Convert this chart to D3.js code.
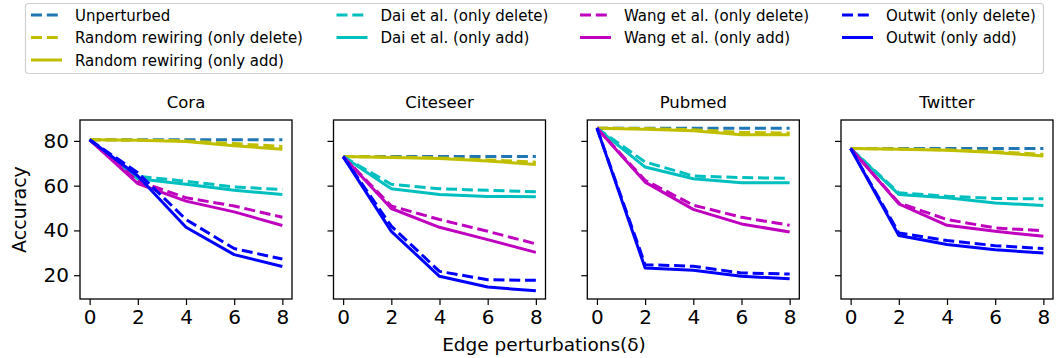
<!DOCTYPE html>
<html>
<head>
<meta charset="utf-8">
<script src="https://cdn.jsdelivr.net/npm/d3@7"></script>
<style>
  html, body { margin: 0; padding: 0; background: #fff; }
  svg text { font-family: "DejaVu Sans", sans-serif; fill: #000; }
</style>
</head>
<body>
<svg id="chart" width="1057" height="358"></svg>
<script>
// x values and panels
var deltas = [0, 2, 4, 6, 8];
var datasets = ["Cora", "Citeseer", "Pubmed", "Twitter"];
var yTicks = [20, 40, 60, 80];

// accuracy per dataset (Cora, Citeseer, Pubmed, Twitter)
var unperturbed = [
  [80.5, 80.5, 80.5, 80.5, 80.5],
  [73.0, 73.0, 73.0, 73.0, 73.0],
  [85.7, 85.7, 85.7, 85.7, 85.7],
  [76.6, 76.6, 76.6, 76.6, 76.6]
];
var randomDelete = [
  [80.5, 80.4, 80.0, 78.8, 77.5],
  [73.0, 72.8, 72.4, 71.5, 70.5],
  [85.7, 85.5, 85.0, 83.8, 83.5],
  [76.6, 76.4, 76.0, 75.2, 74.0]
];
var randomAdd = [
  [80.5, 80.3, 79.7, 77.8, 76.3],
  [73.0, 72.6, 72.1, 71.0, 69.5],
  [85.7, 85.2, 84.5, 82.7, 82.7],
  [76.6, 76.3, 75.8, 74.8, 73.3]
];
var daiDelete = [
  [80.5, 64.2, 62.0, 59.4, 58.3],
  [73.0, 60.6, 58.6, 57.9, 57.3],
  [85.7, 70.6, 64.3, 63.6, 63.3],
  [76.6, 56.8, 55.3, 54.3, 54.1]
];
var daiAdd = [
  [80.5, 63.1, 60.6, 57.9, 56.1],
  [73.0, 58.6, 56.1, 55.2, 55.0],
  [85.7, 68.3, 63.1, 61.3, 61.3],
  [76.6, 56.1, 54.6, 52.3, 51.1]
];
var wangDelete = [
  [80.5, 62.0, 54.6, 50.9, 45.9],
  [73.0, 50.9, 44.9, 39.6, 34.0],
  [85.7, 62.4, 51.3, 45.9, 42.3],
  [76.6, 52.3, 44.9, 41.1, 39.9]
];
var wangAdd = [
  [80.5, 60.9, 53.1, 48.3, 42.2],
  [73.0, 49.8, 41.4, 35.9, 30.2],
  [85.7, 61.6, 49.4, 42.9, 39.3],
  [76.6, 51.9, 42.3, 39.6, 37.4]
];
var outwitDelete = [
  [80.5, 65.8, 44.9, 31.9, 27.2],
  [73.0, 41.9, 21.7, 18.0, 17.7],
  [85.7, 24.7, 24.0, 21.0, 20.5],
  [76.6, 38.9, 35.5, 33.2, 31.9]
];
var outwitAdd = [
  [80.5, 64.3, 41.4, 29.2, 23.9],
  [73.0, 39.6, 19.5, 14.7, 13.0],
  [85.7, 23.2, 22.2, 19.5, 18.4],
  [76.6, 37.7, 33.7, 31.4, 29.9]
];

var series = [
  { name: "Unperturbed", values: unperturbed, color: "#1f77b4", dashed: true },
  { name: "Random rewiring (only delete)", values: randomDelete, color: "#bfbf00", dashed: true },
  { name: "Random rewiring (only add)", values: randomAdd, color: "#bfbf00", dashed: false },
  { name: "Dai et al. (only delete)", values: daiDelete, color: "#00bfbf", dashed: true },
  { name: "Dai et al. (only add)", values: daiAdd, color: "#00bfbf", dashed: false },
  { name: "Wang et al. (only delete)", values: wangDelete, color: "#bf00bf", dashed: true },
  { name: "Wang et al. (only add)", values: wangAdd, color: "#bf00bf", dashed: false },
  { name: "Outwit (only delete)", values: outwitDelete, color: "#0000ff", dashed: true },
  { name: "Outwit (only add)", values: outwitAdd, color: "#0000ff", dashed: false }
];

(function() {
  var svg = d3.select("#chart");

  // Layout
  var panelLeft = [80, 333.5, 587.3, 841];
  var panelW = 212;
  var plotTop = 120, plotBottom = 299;
  var lw = 3, dash = "11,4.8";

  // shared y with matplotlib-like 5% margin
  var allVals = d3.merge(series.map(function(s) { return d3.merge(s.values); }));
  var yMin = d3.min(allVals), yMax = d3.max(allVals);
  var yPad = (yMax - yMin) * 0.05;
  var y = d3.scaleLinear().domain([yMin - yPad, yMax + yPad]).range([plotBottom, plotTop]);

  var xPad = (d3.max(deltas) - d3.min(deltas)) * 0.05;

  datasets.forEach(function(name, di) {
    var x = d3.scaleLinear()
      .domain([d3.min(deltas) - xPad, d3.max(deltas) + xPad])
      .range([panelLeft[di], panelLeft[di] + panelW]);

    var g = svg.append("g").attr("class", "panel");

    var clipId = "clip" + di;
    g.append("clipPath").attr("id", clipId)
      .append("rect")
      .attr("x", panelLeft[di]).attr("y", plotTop)
      .attr("width", panelW).attr("height", plotBottom - plotTop);

    var line = d3.line()
      .x(function(d, i) { return x(deltas[i]); })
      .y(function(d) { return y(d); });

    g.append("g").attr("clip-path", "url(#" + clipId + ")")
      .selectAll("path")
      .data(series)
      .enter()
      .append("path")
      .attr("d", function(s) { return line(s.values[di]); })
      .attr("fill", "none")
      .attr("stroke", function(s) { return s.color; })
      .attr("stroke-width", lw)
      .attr("stroke-linejoin", "round")
      .attr("stroke-dasharray", function(s) { return s.dashed ? dash : null; });

    // x axis
    var xAxis = g.append("g")
      .attr("transform", "translate(0," + plotBottom + ")")
      .call(d3.axisBottom(x).tickValues(deltas).tickSize(6).tickPadding(5).tickFormat(d3.format("d")));
    xAxis.select(".domain").remove();
    xAxis.selectAll("line").attr("stroke", "#000").attr("stroke-width", 1.2);
    xAxis.selectAll("text").style("font-size", "20px");

    // y axis
    var yAxis = g.append("g")
      .attr("transform", "translate(" + panelLeft[di] + ",0)")
      .call(d3.axisLeft(y).tickValues(yTicks).tickSize(6).tickPadding(5)
        .tickFormat(di === 0 ? d3.format("d") : ""));
    yAxis.select(".domain").remove();
    yAxis.selectAll("line").attr("stroke", "#000").attr("stroke-width", 1.2);
    yAxis.selectAll("text").style("font-size", "20px");

    // frame
    g.append("rect")
      .attr("x", panelLeft[di]).attr("y", plotTop)
      .attr("width", panelW).attr("height", plotBottom - plotTop)
      .attr("fill", "none").attr("stroke", "#000").attr("stroke-width", 1.3);

    // title
    g.append("text")
      .attr("x", panelLeft[di] + panelW / 2)
      .attr("y", 108)
      .attr("text-anchor", "middle")
      .style("font-size", "16.5px")
      .text(name);
  });

  // axis labels
  svg.append("text")
    .attr("transform", "translate(26," + ((plotTop + plotBottom) / 2) + ") rotate(-90)")
    .attr("text-anchor", "middle")
    .style("font-size", "19px")
    .text("Accuracy");

  svg.append("text")
    .attr("x", 544)
    .attr("y", 351)
    .attr("text-anchor", "middle")
    .style("font-size", "18.5px")
    .text("Edge perturbations(\u03b4)");

  // legend, 4 columns filled column-first like matplotlib
  var legend = svg.append("g").attr("class", "legend");
  legend.append("rect")
    .attr("x", 25.5).attr("y", 3.5)
    .attr("width", 1018).attr("height", 70)
    .attr("rx", 3)
    .attr("fill", "#fff")
    .attr("stroke", "#d0d0d0")
    .attr("stroke-width", 1.2);

  var colX = [31, 336.5, 580, 842];
  var colCounts = [3, 2, 2, 2];
  var rowY = [15, 37.5, 60];
  var idx = 0;
  colCounts.forEach(function(n, c) {
    for (var r = 0; r < n; r++) {
      var s = series[idx++];
      var item = legend.append("g").attr("transform", "translate(" + colX[c] + "," + rowY[r] + ")");
      item.append("line")
        .attr("x1", 0).attr("x2", 31)
        .attr("y1", 0).attr("y2", 0)
        .attr("stroke", s.color)
        .attr("stroke-width", lw)
        .attr("stroke-dasharray", s.dashed ? dash : null);
      item.append("text")
        .attr("x", 44)
        .attr("y", 5.5)
        .style("font-size", "15px")
        .text(s.name);
    }
  });
})();
</script>
</body>
</html>
